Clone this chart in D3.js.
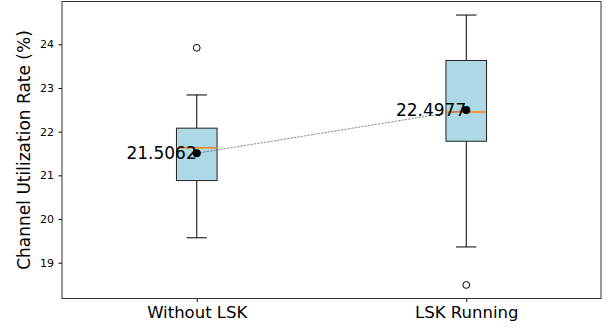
<!DOCTYPE html>
<html>
<head>
<meta charset="utf-8">
<script src="https://cdn.jsdelivr.net/npm/d3@7"></script>
<style>
  html, body { margin: 0; padding: 0; background: #fff; }
  svg { display: block; font-family: "DejaVu Sans", sans-serif; }
</style>
</head>
<body>
<svg id="chart" width="607" height="330"></svg>
<script>
// Box statistics per condition (channel utilization, %)
const categories = ["Without LSK", "LSK Running"];
const q1Values = [20.88, 21.78];
const medianValues = [21.63, 22.45];
const q3Values = [22.08, 23.63];
const whiskerLow = [19.57, 19.36];
const whiskerHigh = [22.84, 24.67];
const outliers = [[23.92], [18.49]];
const meanValues = [21.5062, 22.4977];
const yTicks = [19, 20, 21, 22, 23, 24];

const svg = d3.select("#chart");
const margin = { left: 62, right: 6, top: 1.5, bottom: 31.5 };
const W = 607, H = 330;
const plotW = W - margin.left - margin.right;
const plotH = H - margin.top - margin.bottom;

const x = d3.scalePoint().domain(categories).range([0, plotW]).padding(0.5);
const y = d3.scaleLinear().domain([18.18, 24.98]).range([plotH, 0]);

const g = svg.append("g").attr("transform", `translate(${margin.left},${margin.top})`);

const boxW = 40.6, capW = 20.4;

const data = categories.map((c, i) => ({
  c, q1: q1Values[i], med: medianValues[i], q3: q3Values[i],
  lo: whiskerLow[i], hi: whiskerHigh[i], out: outliers[i], mean: meanValues[i]
}));

// whiskers, boxes, medians, fliers
data.forEach(d => {
  const cx = x(d.c);
  g.append("line").attr("x1", cx).attr("x2", cx).attr("y1", y(d.q3)).attr("y2", y(d.hi))
    .attr("stroke", "#000").attr("stroke-width", 1);
  g.append("line").attr("x1", cx).attr("x2", cx).attr("y1", y(d.q1)).attr("y2", y(d.lo))
    .attr("stroke", "#000").attr("stroke-width", 1);
  [d.lo, d.hi].forEach(v => {
    g.append("line").attr("x1", cx - capW / 2).attr("x2", cx + capW / 2)
      .attr("y1", y(v)).attr("y2", y(v)).attr("stroke", "#000").attr("stroke-width", 1);
  });
  g.append("rect").attr("x", cx - boxW / 2).attr("y", y(d.q3))
    .attr("width", boxW).attr("height", y(d.q1) - y(d.q3))
    .attr("fill", "#add8e6").attr("stroke", "#222").attr("stroke-width", 1);
  g.append("line").attr("x1", cx - boxW / 2).attr("x2", cx + boxW / 2)
    .attr("y1", y(d.med)).attr("y2", y(d.med))
    .attr("stroke", "#ff7f0e").attr("stroke-width", 1.5);
  d.out.forEach(v => {
    g.append("circle").attr("cx", cx).attr("cy", y(v)).attr("r", 3.4)
      .attr("fill", "none").attr("stroke", "#000").attr("stroke-width", 1);
  });
});

// dashed line joining the means
g.append("path")
  .datum(data)
  .attr("d", d3.line().x(d => x(d.c)).y(d => y(d.mean)))
  .attr("fill", "none").attr("stroke", "#666").attr("stroke-width", 0.8)
  .attr("stroke-dasharray", "2.2,1.2");

// mean markers and labels
data.forEach(d => {
  const cx = x(d.c), cy = y(d.mean);
  g.append("circle").attr("cx", cx).attr("cy", cy).attr("r", 4).attr("fill", "#000");
  g.append("text").attr("x", cx).attr("y", cy + 6)
    .attr("text-anchor", "end").attr("font-size", 17).attr("fill", "#000")
    .text(d.mean.toFixed(4));
});

// axes
const yAxis = g.append("g").call(d3.axisLeft(y).tickValues(yTicks).tickFormat(d3.format("d"))
  .tickSize(3.5).tickPadding(4.5));
yAxis.select(".domain").remove();
yAxis.selectAll("text").attr("font-size", 11).attr("font-family", "DejaVu Sans").attr("fill", "#000");
yAxis.selectAll("line").attr("stroke", "#000");

const xAxis = g.append("g").attr("transform", `translate(0,${plotH})`)
  .call(d3.axisBottom(x).tickSize(3.5).tickPadding(4));
xAxis.select(".domain").remove();
xAxis.selectAll("text").attr("font-size", 16.5).attr("font-family", "DejaVu Sans").attr("fill", "#000");
xAxis.selectAll("line").attr("stroke", "#000");

// frame
g.append("rect").attr("x", 0).attr("y", 0).attr("width", plotW).attr("height", plotH)
  .attr("fill", "none").attr("stroke", "#333").attr("stroke-width", 1);

// y axis title
svg.append("text")
  .attr("transform", `translate(30,${margin.top + plotH / 2}) rotate(-90)`)
  .attr("text-anchor", "middle").attr("font-size", 17).attr("fill", "#000")
  .text("Channel Utilization Rate (%)");
</script>
</body>
</html>
